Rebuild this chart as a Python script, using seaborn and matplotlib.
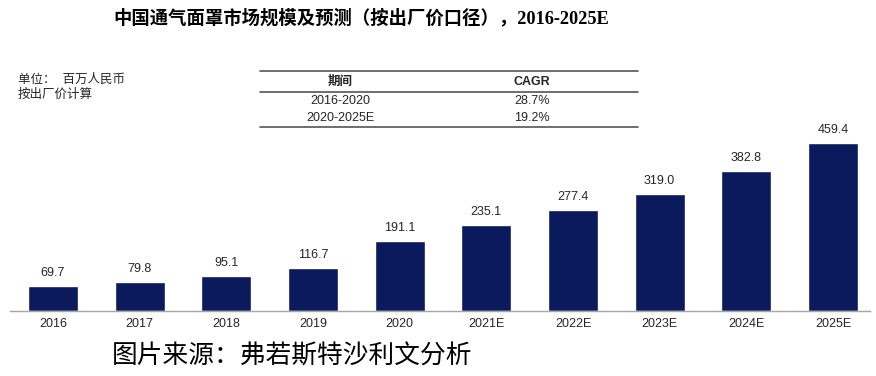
import matplotlib
matplotlib.use("Agg")
import matplotlib.pyplot as plt
import seaborn as sns
import pandas as pd

# --- Datos ---
years = ["2016", "2017", "2018", "2019", "2020", "2021E", "2022E", "2023E", "2024E", "2025E"]
market_size = [69.7, 79.8, 95.1, 116.7, 191.1, 235.1, 277.4, 319.0, 382.8, 459.4]
cagr_periods = ["2016-2020", "2020-2025E"]
cagr_values = ["28.7%", "19.2%"]

title = "中国通气面罩市场规模及预测（按出厂价口径），2016-2025E"
unit_lines = ["单位：  百万人民币", "按出厂价计算"]
source = "图片来源：弗若斯特沙利文分析"

bar_color = "#0a1a5c"
text_color = "#262626"

sns.set_theme(style="white")
plt.rcParams["font.family"] = ["Liberation Sans", "Noto Sans CJK SC", "DejaVu Sans"]

df = pd.DataFrame({"year": years, "value": market_size})

fig = plt.figure(figsize=(8.76, 3.76), dpi=100)
ax = fig.add_axes([10 / 876, 65 / 376, 860 / 876, 0.4864])

sns.barplot(data=df, x="year", y="value", color=bar_color, width=0.58,
            saturation=1, ax=ax)

for i, v in enumerate(market_size):
    ax.annotate(f"{v:.1f}", (i, v), xytext=(0, 5), textcoords="offset points",
                ha="center", va="bottom", fontsize=9, color=text_color)

ax.set_xlim(-0.496, 9.427)
ax.set_ylim(0, 500)
ax.set_xlabel("")
ax.set_ylabel("")
ax.set_yticks([])
ax.tick_params(axis="x", length=0, labelsize=9, colors=text_color, pad=5)
for s in ["top", "left", "right"]:
    ax.spines[s].set_visible(False)
ax.spines["bottom"].set_color("#a6a6a6")
ax.spines["bottom"].set_linewidth(1.0)

# --- Título ---
fig.text(0.5 * (110 + 612) / 876, 1 - 18 / 376, title, ha="center", va="center",
         fontsize=13.2, fontweight="bold",
         family=["Liberation Serif", "Noto Sans CJK SC"], color="black")

# --- Unidad ---
fig.text(18 / 876, 1 - 80 / 376, unit_lines[0], fontsize=9, color=text_color, va="center")
fig.text(18 / 876, 1 - 95 / 376, unit_lines[1], fontsize=9, color=text_color, va="center")

# --- Tabla CAGR ---
x0, x1 = 260 / 876, 638 / 876
for y_px in [71, 92, 127]:
    fig.add_artist(plt.Line2D([x0, x1], [1 - y_px / 376] * 2, color="#555555", lw=1.2))
col1, col2 = 340 / 876, 532 / 876
fig.text(col1, 1 - 82 / 376, "期间", ha="center", va="center", fontsize=9,
         fontweight="bold", color=text_color)
fig.text(col2, 1 - 82 / 376, "CAGR", ha="center", va="center", fontsize=9,
         fontweight="bold", color=text_color)
for k, (p, c) in enumerate(zip(cagr_periods, cagr_values)):
    yy = 1 - (101 + 17 * k) / 376
    fig.text(col1, yy, p, ha="center", va="center", fontsize=9, color=text_color)
    fig.text(col2, yy, c, ha="center", va="center", fontsize=9, color=text_color)

# --- Fuente ---
fig.text(112 / 876, 1 - 357 / 376, source, ha="left", va="center", fontsize=18.5,
         family=["Noto Sans CJK SC"], color="black")

plt.savefig("out.png", dpi=100)
